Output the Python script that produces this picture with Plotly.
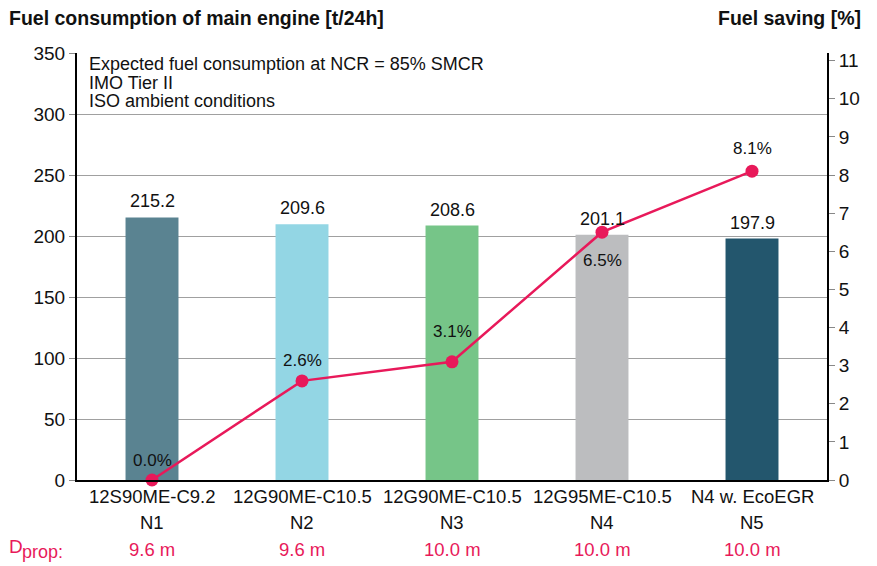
import plotly.graph_objects as go

engines = ["12S90ME-C9.2", "12G90ME-C10.5", "12G90ME-C10.5", "12G95ME-C10.5", "N4 w. EcoEGR"]
names = ["N1", "N2", "N3", "N4", "N5"]
dprop = ["9.6 m", "9.6 m", "10.0 m", "10.0 m", "10.0 m"]
consumption = [215.2, 209.6, 208.6, 201.1, 197.9]
saving = [0.0, 2.6, 3.1, 6.5, 8.1]
bar_colors = ["#5a8391", "#93d6e4", "#76c588", "#bcbdbf", "#23566d"]
saving_label_shift = [20, 20, 30, -28, 23]
left_ticks = [0, 50, 100, 150, 200, 250, 300, 350]
right_ticks = list(range(0, 12))
note_lines = ["Expected fuel consumption at NCR = 85% SMCR", "IMO Tier II", "ISO ambient conditions"]

FONT = "Liberation Sans, Arial, Helvetica, sans-serif"
PINK = "#e8195a"
TXT = "#111111"
xs = list(range(len(names)))

fig = go.Figure()
fig.add_trace(go.Bar(
    x=xs, y=consumption, width=0.353, marker=dict(color=bar_colors, line=dict(width=0)),
    showlegend=False, hoverinfo="skip",
))
fig.add_trace(go.Scatter(
    x=xs, y=saving, yaxis="y2", mode="lines+markers",
    line=dict(color=PINK, width=2.5), marker=dict(color=PINK, size=13),
    cliponaxis=False, showlegend=False,
))

ann = []
for i in xs:
    ann.append(dict(x=i, y=consumption[i], xref="x", yref="y", yanchor="middle", yshift=16,
                    text=f"{consumption[i]:.1f}", showarrow=False,
                    font=dict(size=18, color=TXT, family=FONT)))
    ann.append(dict(x=i, y=saving[i], xref="x", yref="y2", yanchor="middle",
                    yshift=saving_label_shift[i], text=f"{saving[i]:.1f}%", showarrow=False,
                    font=dict(size=17, color=TXT, family=FONT)))
    ann.append(dict(x=i, y=0, xref="x", yref="paper", yanchor="middle", yshift=-16,
                    text=engines[i], showarrow=False, font=dict(size=18.5, color=TXT, family=FONT)))
    ann.append(dict(x=i, y=0, xref="x", yref="paper", yanchor="middle", yshift=-42,
                    text=names[i], showarrow=False, font=dict(size=18.5, color=TXT, family=FONT)))
    ann.append(dict(x=i, y=0, xref="x", yref="paper", yanchor="middle", yshift=-69,
                    text=dprop[i], showarrow=False, font=dict(size=18.5, color=PINK, family=FONT)))

for k, line in enumerate(note_lines):
    ann.append(dict(x=0, xref="paper", xanchor="left", xshift=11, y=1, yref="paper",
                    yanchor="middle", yshift=-11 - 18.7 * k, text=line, showarrow=False,
                    borderpad=0, font=dict(size=18, color=TXT, family=FONT)))

ann += [
    dict(x=0, xref="paper", xanchor="left", xshift=-70, y=0, yref="paper", yanchor="middle",
         yshift=-66, text="D", showarrow=False, font=dict(size=19, color=PINK, family=FONT)),
    dict(x=0, xref="paper", xanchor="left", xshift=-57, y=0, yref="paper", yanchor="middle",
         yshift=-72, text="prop:", showarrow=False, font=dict(size=18, color=PINK, family=FONT)),
    dict(x=0, xref="paper", xanchor="left", xshift=-70, y=1, yref="paper", yanchor="middle",
         yshift=35, text="<b>Fuel consumption of main engine [t/24h]</b>", showarrow=False,
         font=dict(size=19.5, color=TXT, family=FONT)),
    dict(x=1, xref="paper", xanchor="right", xshift=36, y=1, yref="paper", yanchor="middle",
         yshift=35, text="<b>Fuel saving [%]</b>", showarrow=False,
         font=dict(size=19.5, color=TXT, family=FONT)),
]

fig.update_layout(
    width=877, height=566,
    margin=dict(l=77, r=50, t=53, b=86),
    paper_bgcolor="white", plot_bgcolor="white",
    font=dict(family=FONT, color=TXT),
    xaxis=dict(range=[-0.5, 4.5], showticklabels=False, ticks="", showgrid=False,
               zeroline=False, showline=True, linecolor="black", linewidth=2),
    yaxis=dict(range=[0, 350], tickvals=left_ticks, ticks="outside", ticklen=6,
               tickcolor="#888", tickwidth=1, showgrid=True, gridcolor="#a0a0a0",
               gridwidth=1, zeroline=False, showline=True, linecolor="black",
               linewidth=2, tickfont=dict(size=19, color=TXT)),
    yaxis2=dict(range=[0, 11.2], overlaying="y", side="right", tickvals=right_ticks,
                ticks="outside", ticklen=6, tickcolor="#888", tickwidth=1,
                showgrid=False, zeroline=False, showline=True, linecolor="black",
                linewidth=2, tickfont=dict(size=19, color=TXT)),
    annotations=ann,
)
fig.write_html("out.html", config={"displayModeBar": False},
               post_script="document.body.style.margin='0';document.body.style.overflow='hidden';")
